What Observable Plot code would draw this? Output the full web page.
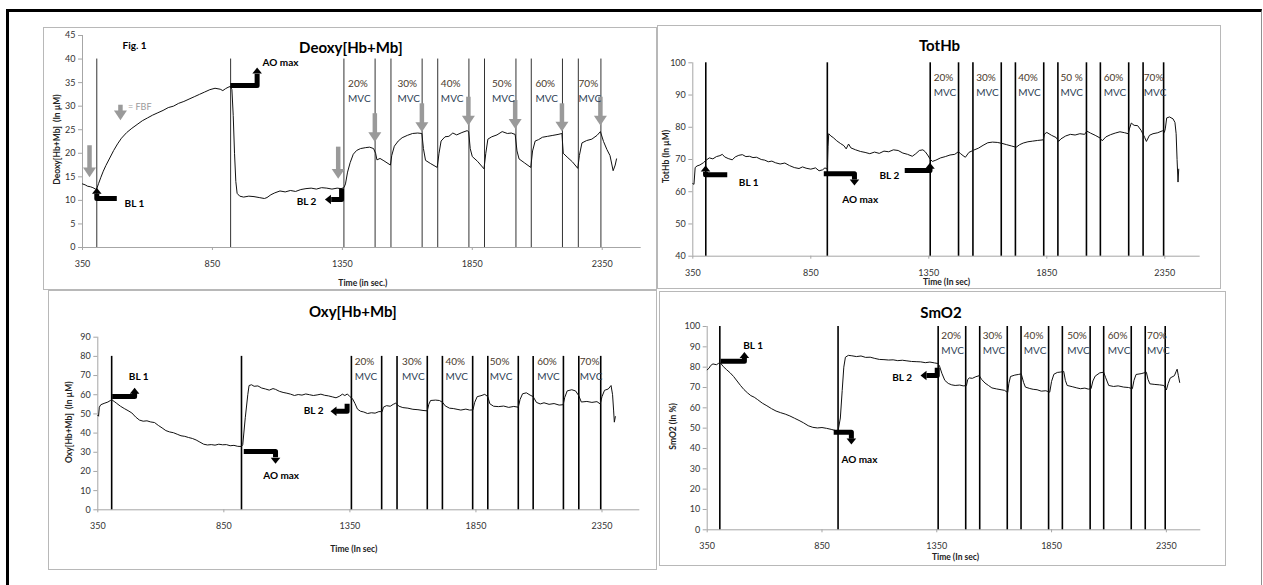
<!DOCTYPE html>
<html><head><meta charset="utf-8">
<script src="https://cdn.jsdelivr.net/npm/d3@7"></script>
<script src="https://cdn.jsdelivr.net/npm/@observablehq/plot@0.6"></script>
<style>
body{margin:0;background:#fff;}
#page{position:relative;width:1263px;height:585px;overflow:hidden;background:#fff;font-family:Lato,sans-serif;}
#frame{position:absolute;left:6px;top:9px;width:1256px;height:580px;border-left:3px solid #000;border-top:3px solid #000;border-right:1px solid #909090;box-sizing:border-box;}
.panel{position:absolute;background:#fff;border:1px solid #b8b8b8;box-sizing:border-box;}
.plotwrap{position:absolute;}
.plotwrap svg{display:block;overflow:visible;}
</style></head><body><div id="page"><div id="frame"></div></div>
<script>
// ---------- shared values ----------
const xTicks = [350, 850, 1350, 1850, 2350];
const xDomain = [350, 2500];
const eventTimes = [405, 920, 1356, 1476, 1537, 1657, 1717, 1837, 1897, 2018, 2077, 2197, 2258, 2345];
const mvcPct = ["20%", "30%", "40%", "50%", "60%", "70%"];
const mvcPctTot = ["20%", "30%", "40%", "50 %", "60%", "70%"];

// ---------- Deoxy[Hb+Mb] ----------
const deoxyYTicks = [0, 5, 10, 15, 20, 25, 30, 35, 40, 45];
const deoxy = [[350,13.5],[360,13.3],[370,13.0],[380,12.9],[390,12.7],[400,12.4],[405,12.5],[412,13.6],[420,14.8],[430,16.2],[440,17.4],[455,19.0],[470,20.6],[485,22.0],[500,23.2],[520,24.4],[540,25.3],[560,26.1],[580,26.9],[600,27.5],[620,28.1],[640,28.6],[660,29.1],[680,29.7],[700,30.0],[720,30.6],[740,31.0],[760,31.5],[780,32.0],[800,32.5],[820,33.0],[840,33.5],[860,33.8],[880,33.6],[890,33.3],[900,33.7],[910,34.0],[919,34.2],[925,33.5],[930,28],[935,20],[940,14],[945,11.5],[955,10.9],[970,10.7],[990,10.9],[1010,10.8],[1030,10.6],[1050,10.4],[1060,10.6],[1075,11.2],[1090,11.6],[1110,12.0],[1130,11.8],[1150,12.1],[1170,11.9],[1190,12.3],[1210,12.5],[1230,12.6],[1250,12.4],[1270,12.7],[1290,12.6],[1310,12.4],[1330,12.6],[1345,12.5],[1356,12.7],[1362,13.5],[1370,16.0],[1380,18.0],[1392,19.8],[1405,20.6],[1420,21.0],[1440,21.2],[1455,21.3],[1470,21.0],[1478,20.0],[1483,18.6],[1495,18.9],[1510,18.4],[1535,17.5],[1540,19.5],[1550,21.5],[1565,22.6],[1580,23.3],[1600,23.8],[1620,24.2],[1640,24.3],[1656,24.2],[1662,21.0],[1670,18.5],[1690,17.8],[1715,17.0],[1722,20.0],[1730,22.6],[1745,23.5],[1760,23.6],[1775,24.3],[1790,23.9],[1810,24.4],[1830,24.8],[1836,24.6],[1842,21.0],[1850,19.3],[1870,18.3],[1895,16.7],[1902,20.0],[1910,23.0],[1925,23.5],[1945,23.9],[1965,24.6],[1985,24.2],[2000,24.3],[2015,24.0],[2022,20.5],[2030,18.8],[2050,18.0],[2075,17.0],[2082,20.5],[2092,22.6],[2105,22.9],[2120,23.4],[2140,23.6],[2160,23.8],[2180,24.0],[2195,24.2],[2200,20.0],[2215,19.2],[2235,18.2],[2256,16.8],[2262,19.5],[2272,22.2],[2290,22.7],[2310,23.0],[2330,23.8],[2343,24.6],[2355,22.5],[2368,20.8],[2380,19.5],[2392,16.3],[2400,17.5],[2405,18.8]];
const deoxyMvcX = [1372, 1562, 1729, 1926, 2093, 2259];
const deoxyArrows = [
  {pts: [[482,10.4],[405,10.4],[405,11.4]], tip: [405,12.7], dir: "up"},
  {pts: [[919,34.4],[1022,34.4],[1022,36.9]], tip: [1022,38.2], dir: "up"},
  {pts: [[1347,12.5],[1347,10.2],[1307,10.2]], tip: [1283,10.2], dir: "left"}
];
const deoxyNotes = [["BL 1",512,9.3],["AO max",1043,39.2],["BL 2",1174,9.6]];
const fbfT = [377, 1334, 1475, 1656, 1835, 2015, 2195, 2343, 496];
const fbfTop = [21.6, 21.3, 28.4, 30.5, 31.9, 31.2, 30.5, 31.9, 30.2];
const fbfTip = [14.9, 14.6, 22.4, 24.5, 25.9, 25.2, 24.6, 25.9, 27.0];

// ---------- TotHb ----------
const totYTicks = [40, 50, 60, 70, 80, 90, 100];
const totHb = [[350,62.5],[355,62.3],[360,67.5],[368,68.0],[380,68.3],[395,69.0],[405,69.7],[420,70.5],[435,70.2],[450,70.9],[465,71.2],[475,71.6],[485,70.8],[500,70.3],[517,69.9],[530,70.8],[545,71.3],[560,71.5],[575,70.9],[590,71.0],[605,70.6],[620,70.7],[640,70.0],[655,69.8],[670,69.3],[685,69.5],[700,69.0],[720,68.6],[740,68.9],[760,68.1],[780,67.5],[800,67.2],[815,67.7],[830,67.3],[850,67.0],[870,67.4],[885,66.5],[900,66.8],[910,67.4],[920,67.0],[923,74],[926,78.0],[935,77.3],[945,76.8],[960,75.8],[975,75.0],[990,74.3],[1000,73.3],[1010,74.8],[1020,73.6],[1040,73.0],[1060,72.5],[1080,72.2],[1100,71.8],[1120,72.3],[1140,71.9],[1160,72.6],[1180,72.4],[1200,73.0],[1220,72.8],[1240,72.0],[1260,71.6],[1280,71.0],[1295,71.8],[1310,72.8],[1325,73.0],[1335,72.4],[1345,71.4],[1355,70.2],[1365,69.4],[1380,69.8],[1400,70.5],[1420,70.9],[1440,71.4],[1460,71.6],[1475,72.4],[1485,71.8],[1495,71.2],[1505,70.7],[1520,72.2],[1540,72.9],[1560,73.5],[1580,74.4],[1600,75.2],[1620,75.4],[1640,75.3],[1660,75.0],[1680,74.6],[1700,74.2],[1720,73.8],[1735,74.6],[1750,75.1],[1770,75.5],[1790,75.7],[1810,75.9],[1835,76.1],[1840,77.9],[1850,78.4],[1870,77.5],[1890,76.8],[1900,75.6],[1910,76.4],[1930,77.3],[1950,77.8],[1970,77.6],[1990,78.0],[2010,77.8],[2020,78.8],[2035,78.2],[2055,77.5],[2075,76.7],[2085,75.8],[2100,77.0],[2120,77.7],[2140,78.2],[2160,78.6],[2180,78.3],[2195,78.0],[2200,79.5],[2208,81.3],[2220,80.6],[2235,80.5],[2250,79.0],[2265,76.8],[2272,75.6],[2285,77.5],[2300,78.0],[2320,78.3],[2340,78.9],[2348,78.4],[2352,79.5],[2358,82.9],[2370,83.2],[2385,82.6],[2393,81.5],[2398,78.0],[2402,70.0],[2406,63.0],[2409,67.0]];
const totMvcX = [1371, 1551, 1729, 1908, 2091, 2261];
const totArrows = [
  {pts: [[496,65.3],[404,65.3],[404,66.2]], tip: [404,68.1], dir: "up"},
  {pts: [[905,65.6],[1035,65.6],[1035,63.8]], tip: [1035,61.9], dir: "down"},
  {pts: [[1248,66.6],[1355,66.6],[1355,67.5]], tip: [1355,69.0], dir: "up"}
];
const totNotes = [["BL 1",545,62.8],["AO max",983,57.6],["BL 2",1141,65.0]];

// ---------- Oxy[Hb+Mb] ----------
const oxyYTicks = [0, 10, 20, 30, 40, 50, 60, 70, 80, 90];
const oxy = [[350,49.2],[353,48.8],[356,53.5],[362,54.8],[375,55.5],[390,56.2],[400,57.0],[407,57.2],[415,56.5],[425,55.5],[440,54.0],[455,52.8],[470,51.7],[485,50.5],[500,48.4],[515,46.8],[530,46.2],[545,46.4],[560,45.8],[575,45.5],[590,44.0],[605,42.7],[620,41.3],[635,40.6],[650,40.2],[665,39.4],[680,38.6],[695,38.3],[710,37.7],[725,37.2],[740,36.4],[755,35.3],[770,34.2],[785,33.8],[800,34.0],[815,33.7],[830,34.2],[845,33.9],[860,34.0],[875,33.4],[890,33.6],[905,33.1],[920,33.0],[925,34],[935,48],[945,60],[950,64.8],[960,65.2],[970,64.4],[985,64.6],[1000,63.5],[1015,63.0],[1030,62.4],[1045,63.2],[1055,62.8],[1070,61.8],[1085,61.2],[1100,60.8],[1115,60.3],[1130,59.6],[1145,60.1],[1160,59.8],[1175,60.4],[1190,60.0],[1205,59.6],[1220,59.9],[1235,60.3],[1250,59.7],[1265,59.4],[1280,58.9],[1295,58.4],[1310,59.3],[1320,60.3],[1330,59.6],[1340,60.4],[1350,59.0],[1360,58.0],[1370,55.5],[1380,52.5],[1392,51.4],[1405,51.0],[1420,50.2],[1435,50.6],[1450,50.4],[1465,51.2],[1478,51.2],[1483,53.5],[1495,54.3],[1510,54.0],[1522,55.0],[1532,55.6],[1545,54.0],[1560,53.3],[1580,53.0],[1600,52.4],[1620,52.2],[1640,51.8],[1657,51.6],[1663,55.0],[1670,57.0],[1690,57.2],[1705,57.0],[1718,56.0],[1728,54.2],[1745,53.0],[1760,52.8],[1775,52.4],[1790,52.0],[1810,52.5],[1825,52.0],[1838,52.1],[1845,56.0],[1855,59.0],[1870,59.5],[1885,60.2],[1897,59.0],[1905,55.3],[1920,54.0],[1940,53.8],[1960,54.1],[1980,53.4],[2000,53.9],[2018,53.5],[2025,57.5],[2035,60.5],[2050,61.0],[2065,59.8],[2077,59.0],[2090,56.0],[2105,55.2],[2120,55.8],[2140,55.0],[2160,55.4],[2180,54.6],[2196,54.8],[2202,58.5],[2212,62.0],[2230,62.6],[2245,62.0],[2258,59.5],[2268,56.2],[2290,56.5],[2310,56.0],[2330,56.4],[2343,55.2],[2350,59.0],[2360,62.3],[2375,63.0],[2386,64.8],[2392,60.0],[2396,52.0],[2399,45.7],[2403,48.6]];
const oxyMvcX = [1369, 1557, 1729, 1905, 2093, 2262];
const oxyArrows = [
  {pts: [[407,59.1],[496,59.1],[496,61.4]], tip: [496,63.6], dir: "up"},
  {pts: [[929,30.4],[1055,30.4],[1055,27.4]], tip: [1055,24.0], dir: "down"},
  {pts: [[1339,55.3],[1339,51.4],[1295,51.4]], tip: [1273,51.4], dir: "left"}
];
const oxyNotes = [["BL 1",473,69.5],["AO max",1006,17.9],["BL 2",1167,51.4]];

// ---------- SmO2 ----------
const smoYTicks = [0, 10, 20, 30, 40, 50, 60, 70, 80, 90, 100];
const smo2 = [[350,78.7],[358,79.5],[365,80.8],[375,81.6],[390,81.2],[400,81.9],[408,82.0],[420,80.3],[435,78.7],[450,77.2],[465,75.4],[480,73.2],[495,71.0],[510,69.0],[525,67.4],[540,66.0],[555,65.2],[570,64.0],[590,62.3],[610,61.0],[630,59.6],[650,58.4],[670,57.6],[690,56.9],[710,56.0],[730,54.9],[750,53.8],[770,52.6],[790,51.2],[810,50.4],[830,50.1],[850,50.3],[870,49.9],[890,49.4],[910,48.8],[920,48.6],[930,55],[938,68.5],[945,80],[952,84.9],[965,85.8],[980,85.6],[1000,85.2],[1020,85.5],[1040,84.8],[1060,84.9],[1080,84.3],[1100,83.8],[1120,83.7],[1140,83.5],[1160,83.6],[1180,83.2],[1200,83.4],[1220,83.1],[1240,82.8],[1260,82.7],[1280,82.6],[1300,82.2],[1320,82.5],[1340,82.1],[1355,81.8],[1362,80.5],[1372,77.0],[1385,73.5],[1400,72.0],[1415,71.3],[1430,71.0],[1450,71.2],[1465,70.8],[1479,70.9],[1485,74.0],[1492,74.7],[1505,74.5],[1520,75.3],[1535,75.8],[1545,74.0],[1560,72.2],[1575,71.0],[1590,69.8],[1610,69.3],[1630,68.9],[1645,68.6],[1659,67.5],[1664,72.0],[1671,75.4],[1690,76.1],[1705,76.4],[1718,76.7],[1728,72.5],[1736,70.2],[1755,69.5],[1770,69.1],[1787,68.9],[1805,68.2],[1825,68.4],[1842,67.7],[1850,73.0],[1860,76.5],[1875,77.4],[1890,77.6],[1903,77.9],[1910,73.5],[1918,71.0],[1940,70.4],[1960,69.8],[1976,69.4],[1995,69.7],[2010,69.2],[2022,69.4],[2030,73.2],[2040,75.6],[2060,77.2],[2077,77.5],[2085,75.0],[2099,71.0],[2120,70.5],[2140,70.8],[2164,70.2],[2185,70.0],[2202,69.4],[2209,73.5],[2218,76.4],[2240,76.8],[2263,77.5],[2270,74.0],[2278,71.8],[2300,71.5],[2320,71.3],[2339,71.0],[2350,68.8],[2358,72.0],[2367,74.7],[2385,75.8],[2393,78.0],[2397,79.0],[2402,76.0],[2408,72.5]];
const smoMvcX = [1370, 1550, 1729, 1918, 2095, 2266];
const smoArrows = [
  {pts: [[408,82.9],[512,82.9],[512,84.9]], tip: [512,87.4], dir: "up"},
  {pts: [[901,48],[978,48],[978,44.8]], tip: [978,42], dir: "down"},
  {pts: [[1352,79.7],[1352,75.9],[1305,75.9]], tip: [1279,75.9], dir: "left"}
];
const smoNotes = [["BL 1",507,90.7],["AO max",935,34.4],["BL 2",1156,74.8]];

// ---------- helpers ----------
function tipSymbol(dir, k) {
  return {draw(ctx, size) {
    const w = Math.sqrt(size / Math.PI), h = w * k;
    ctx.moveTo(0, 0);
    if (dir === "up") { ctx.lineTo(-w, h); ctx.lineTo(w, h); }
    else if (dir === "down") { ctx.lineTo(-w, -h); ctx.lineTo(w, -h); }
    else { ctx.lineTo(h, -w); ctx.lineTo(h, w); }
    ctx.closePath();
  }};
}
const FONT = "Lato, sans-serif";

function panel(cfg) {
  const page = document.getElementById("page");
  const box = document.createElement("div");
  box.className = "panel";
  Object.assign(box.style, {left: cfg.L + "px", top: cfg.T + "px", width: (cfg.R - cfg.L) + "px", height: (cfg.B - cfg.T) + "px"});
  page.appendChild(box);

  const W = cfg.R - cfg.L, H = cfg.B - cfg.T;
  const series = cfg.data.map(([t, v]) => ({t, v}));
  const arrowPts = cfg.arrows.flatMap((a, i) => a.pts.map(([x, y]) => ({x, y, id: i})));
  const marks = [
    Plot.ruleX([xDomain[0]], {stroke: "#a6a6a6"}),
    Plot.ruleY([cfg.yDomain[0]], {stroke: "#a6a6a6"}),
    Plot.axisX(xTicks, {tickSize: 3, tickPadding: 10, stroke: "#a6a6a6", fill: "#333", fontSize: 9, tickFormat: d => String(d)}),
    Plot.axisY(cfg.yTicks, {tickSize: 4, tickPadding: 3, stroke: "#a6a6a6", fill: "#333", fontSize: 9, tickFormat: d => String(d)}),
    Plot.ruleX(eventTimes, {y1: cfg.yDomain[0], y2: cfg.lineTop, stroke: cfg.lineColor, strokeWidth: cfg.lineWidth})
  ];
  if (cfg.fbf) {
    const f = fbfT.map((t, i) => ({t, top: fbfTop[i], tip: fbfTip[i]}));
    marks.push(
      Plot.ruleX(f, {x: "t", y1: "top", y2: d => d.tip + 1.5, stroke: "#9a9a9a", strokeWidth: 4.5}),
      Plot.dot(f, {x: "t", y: "tip", r: 6.5, symbol: tipSymbol("down", 1.5), fill: "#9a9a9a", stroke: "none"}),
      Plot.text(["= FBF"], {x: 525, y: 29.7, text: d => d, textAnchor: "start", fill: "#9a9a9a", fontSize: 9})
    );
  }
  marks.push(
    Plot.line(series, {x: "t", y: "v", stroke: "#111", strokeWidth: 1}),
    Plot.line(arrowPts, {x: "x", y: "y", z: "id", stroke: "#000", strokeWidth: 5, strokeLinejoin: "round", strokeLinecap: "butt"})
  );
  for (const dir of ["up", "down", "left"]) {
    const tips = cfg.arrows.filter(a => a.dir === dir).map(a => ({x: a.tip[0], y: a.tip[1]}));
    if (tips.length) marks.push(Plot.dot(tips, {x: "x", y: "y", r: 4.8, symbol: tipSymbol(dir, 1.25), fill: "#000", stroke: "none"}));
  }
  marks.push(
    Plot.text(cfg.notes, {x: d => d[1], y: d => d[2], text: d => d[0], textAnchor: "start", fontWeight: "bold", fontSize: 10, fill: "#000"}),
    Plot.text(cfg.mvcLabels, {x: (d, i) => cfg.mvcX[i], y: () => cfg.mvcY, text: d => d, textAnchor: "start", fontSize: 10, fill: "#4a3a2c"}),
    Plot.text(cfg.mvcLabels, {x: (d, i) => cfg.mvcX[i], y: () => cfg.mvcY, text: () => "MVC", dy: 15, textAnchor: "start", fontSize: 10, fill: "#2f3f55"}),
    Plot.text([cfg.title], {frameAnchor: "top", text: d => d, dx: cfg.titleDx, dy: cfg.titleDy, lineAnchor: "middle", fontSize: 15, fontWeight: "bold", fill: "#000"}),
    Plot.text([cfg.ylabel], {frameAnchor: "left", text: d => d, rotate: -90, dx: cfg.ylDx, dy: cfg.ylDy, textAnchor: "middle", lineAnchor: "middle", fontSize: 8.5, fontWeight: "bold", fill: "#222"}),
    Plot.text([cfg.xlabel], {frameAnchor: "bottom", text: d => d, dx: cfg.xlDx, dy: cfg.xlDy, textAnchor: "middle", lineAnchor: "middle", fontSize: 8.5, fontWeight: "bold", fill: "#222"})
  );
  if (cfg.fig) marks.push(Plot.text([cfg.fig], {frameAnchor: "top-left", text: d => d, dx: 40, dy: 10, textAnchor: "start", lineAnchor: "middle", fontSize: 10, fontWeight: "bold", fill: "#000"}));

  const svg = Plot.plot({
    width: W, height: H,
    marginLeft: cfg.mL, marginRight: cfg.mR, marginTop: cfg.mT, marginBottom: cfg.mB,
    x: {domain: xDomain},
    y: {domain: cfg.yDomain},
    style: {fontFamily: FONT, background: "transparent", overflow: "visible"},
    marks
  });
  const wrap = document.createElement("div");
  wrap.className = "plotwrap";
  Object.assign(wrap.style, {left: cfg.L + "px", top: cfg.T + "px"});
  wrap.appendChild(svg);
  page.appendChild(wrap);
}

panel({L: 43, T: 27, R: 657, B: 290, mL: 39, mR: 16.3, mT: 8, mB: 43,
  yDomain: [0, 45], yTicks: deoxyYTicks, data: deoxy, lineTop: 40, lineColor: "#333", lineWidth: 1,
  arrows: deoxyArrows, notes: deoxyNotes, fbf: true, mvcLabels: mvcPct, mvcX: deoxyMvcX, mvcY: 34.75,
  title: "Deoxy[Hb+Mb]", titleDx: -11, titleDy: 13, ylabel: "Deoxy[Hb+Mb]  (In µM)", ylDx: -25, ylDy: -2,
  xlabel: "Time (in sec.)", xlDx: 1, xlDy: 36, fig: "Fig. 1"});

panel({L: 657, T: 25, R: 1221, B: 289, mL: 35.3, mR: 21.3, mT: 37.3, mB: 33.3,
  yDomain: [40, 100], yTicks: totYTicks, data: totHb, lineTop: 100, lineColor: "#000", lineWidth: 1.6,
  arrows: totArrows, notes: totNotes, fbf: false, mvcLabels: mvcPctTot, mvcX: totMvcX, mvcY: 95.2,
  title: "TotHb", titleDx: -7, titleDy: -16.6, ylabel: "TotHb (In µM)", ylDx: -27, ylDy: -3,
  xlabel: "Time (In sec)", xlDx: 0, xlDy: 26.5});

panel({L: 48, T: 290, R: 657, B: 570, mL: 49.3, mR: 17.7, mT: 46.7, mB: 60.7,
  yDomain: [0, 90], yTicks: oxyYTicks, data: oxy, lineTop: 80, lineColor: "#000", lineWidth: 1.6,
  arrows: oxyArrows, notes: oxyNotes, fbf: false, mvcLabels: mvcPct, mvcX: oxyMvcX, mvcY: 77,
  title: "Oxy[Hb+Mb]", titleDx: -16, titleDy: -24.7, ylabel: "Oxy[Hb+Mb]  (In µM)", ylDx: -29, ylDy: -1.3,
  xlabel: "Time (In sec)", xlDx: -15, xlDy: 39});

panel({L: 659, T: 291, R: 1226, B: 566, mL: 47.7, mR: 25.7, mT: 35, mB: 36.7,
  yDomain: [0, 100], yTicks: smoYTicks, data: smo2, lineTop: 100, lineColor: "#000", lineWidth: 1.6,
  arrows: smoArrows, notes: smoNotes, fbf: false, mvcLabels: mvcPct, mvcX: smoMvcX, mvcY: 95.6,
  title: "SmO2", titleDx: -13, titleDy: -13.3, ylabel: "SmO2 (In %)", ylDx: -34.4, ylDy: -1.7,
  xlabel: "Time (In sec)", xlDx: 1.5, xlDy: 27.4});
</script></body></html>
